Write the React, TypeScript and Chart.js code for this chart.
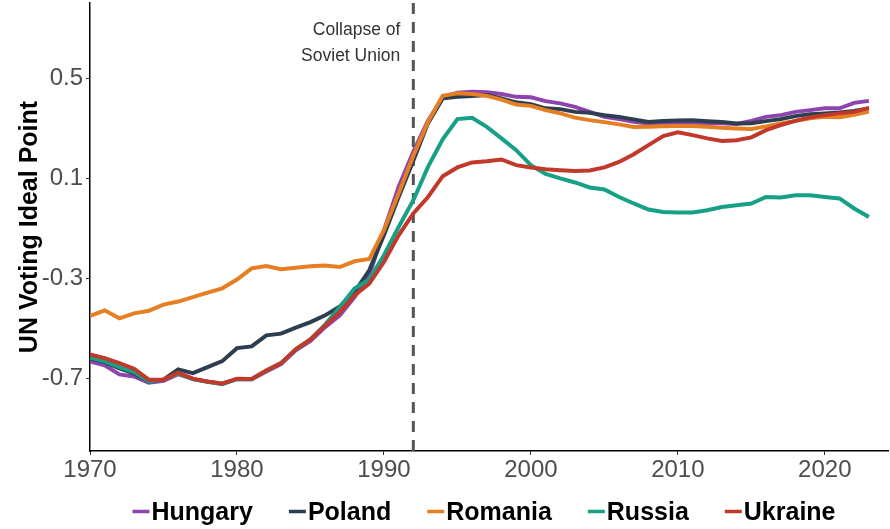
import React, { useEffect, useRef } from "react";
import { Chart, registerables } from "chart.js";

Chart.register(...registerables);

const years = [
  1970, 1971, 1972, 1973, 1974, 1975, 1976, 1977, 1978, 1979,
  1980, 1981, 1982, 1983, 1984, 1985, 1986, 1987, 1988, 1989,
  1990, 1991, 1992, 1993, 1994, 1995, 1996, 1997, 1998, 1999,
  2000, 2001, 2002, 2003, 2004, 2005, 2006, 2007, 2008, 2009,
  2010, 2011, 2012, 2013, 2014, 2015, 2016, 2017, 2018, 2019,
  2020, 2021, 2022, 2023,
];

const seriesNames = ["Hungary", "Poland", "Romania", "Russia", "Ukraine"];
const seriesColors = ["#8E44AD", "#2C3E50", "#E67E22", "#16A085", "#C0392B"];

const hungary = [
  -0.632, -0.648, -0.684, -0.692, -0.717, -0.71, -0.683, -0.703, -0.713, -0.72,
  -0.703, -0.703, -0.672, -0.643, -0.588, -0.55, -0.495, -0.448, -0.375, -0.288,
  -0.108, 0.065, 0.205, 0.33, 0.422, 0.441, 0.445, 0.443, 0.436, 0.425,
  0.423, 0.408, 0.399, 0.385, 0.365, 0.345, 0.336, 0.325, 0.319, 0.32,
  0.322, 0.322, 0.32, 0.32, 0.317, 0.329, 0.345, 0.352, 0.365, 0.372,
  0.379, 0.379, 0.401, 0.409,
];

const poland = [
  -0.62, -0.635, -0.66, -0.68, -0.712, -0.705, -0.664, -0.679, -0.655, -0.631,
  -0.579, -0.572, -0.528, -0.521, -0.497, -0.475, -0.448, -0.412, -0.355, -0.268,
  -0.128, 0.025, 0.17, 0.32, 0.419, 0.425, 0.428, 0.432, 0.419, 0.403,
  0.396, 0.379, 0.376, 0.365, 0.361, 0.352, 0.345, 0.335, 0.325, 0.329,
  0.331, 0.332, 0.328, 0.325, 0.319, 0.32, 0.328, 0.336, 0.348, 0.356,
  0.359, 0.363, 0.369, 0.379,
];

const romania = [
  -0.45, -0.428, -0.46, -0.44, -0.43, -0.405, -0.393, -0.375, -0.357, -0.34,
  -0.305, -0.26, -0.251, -0.264, -0.258, -0.252, -0.249, -0.255, -0.232, -0.223,
  -0.108, 0.039, 0.19, 0.325, 0.429, 0.439, 0.436, 0.429, 0.414, 0.394,
  0.389, 0.372, 0.359, 0.342, 0.332, 0.324, 0.315, 0.305, 0.306, 0.308,
  0.309, 0.309, 0.306, 0.302, 0.299, 0.297, 0.307, 0.319, 0.329, 0.339,
  0.345, 0.344, 0.353, 0.366,
];

const russia = [
  -0.617, -0.632, -0.655, -0.675, -0.712, -0.705, -0.68, -0.703, -0.713, -0.723,
  -0.703, -0.703, -0.668, -0.639, -0.584, -0.544, -0.485, -0.415, -0.341, -0.305,
  -0.208, -0.095, 0.012, 0.145, 0.255, 0.336, 0.341, 0.305, 0.259, 0.212,
  0.152, 0.117, 0.099, 0.083, 0.063, 0.055, 0.025, -0.001, -0.025, -0.035,
  -0.037, -0.037, -0.028, -0.015, -0.008, -0.001, 0.025, 0.023, 0.032, 0.032,
  0.025, 0.019, -0.021, -0.055,
];

const ukraine = [
  -0.604, -0.619, -0.639, -0.661, -0.705, -0.705, -0.677, -0.701, -0.712, -0.721,
  -0.701, -0.702, -0.668, -0.639, -0.584, -0.544, -0.488, -0.435, -0.368, -0.321,
  -0.235, -0.128, -0.041, 0.025, 0.108, 0.143, 0.163, 0.168, 0.175, 0.152,
  0.143, 0.136, 0.132, 0.129, 0.131, 0.143, 0.165, 0.196, 0.232, 0.268,
  0.283, 0.272, 0.259, 0.249, 0.252, 0.263, 0.292, 0.312, 0.329, 0.343,
  0.352, 0.359, 0.365, 0.381,
];

const seriesValues = [hungary, poland, romania, russia, ukraine];

const xTickValues = [1970, 1980, 1990, 2000, 2010, 2020];
const yTickValues = [-0.7, -0.3, 0.1, 0.5];

const eventYear = 1992;
const eventLabel = ["Collapse of", "Soviet Union"];
const yAxisTitle = "UN Voting Ideal Point";

const FONT = '"Liberation Sans", Arial, Helvetica, sans-serif';

const eventLinePlugin = {
  id: "eventLine",
  beforeDatasetsDraw(chart: any) {
    const { ctx, chartArea } = chart;
    const x = chart.scales.x.getPixelForValue(eventYear);
    ctx.save();
    ctx.strokeStyle = "#555555";
    ctx.lineWidth = 3;
    ctx.setLineDash([11, 8]);
    ctx.beginPath();
    ctx.moveTo(x, chartArea.bottom);
    ctx.lineTo(x, chartArea.top);
    ctx.stroke();
    ctx.setLineDash([]);
    ctx.fillStyle = "#333333";
    ctx.font = `17.5px ${FONT}`;
    ctx.textAlign = "right";
    ctx.textBaseline = "alphabetic";
    ctx.fillText(eventLabel[0], x - 13, 35);
    ctx.fillText(eventLabel[1], x - 13, 61);
    ctx.restore();
  },
};

const legendPlugin = {
  id: "bottomLegend",
  afterDraw(chart: any) {
    const { ctx, chartArea } = chart;
    const ds = chart.data.datasets;
    ctx.save();
    ctx.font = `bold 25px ${FONT}`;
    const markW = 17;
    const gapMT = 2;
    const gapItems = 36;
    const widths = ds.map((d: any) => markW + gapMT + ctx.measureText(d.label).width);
    const total = widths.reduce((a: number, b: number) => a + b, 0) + gapItems * (ds.length - 1);
    let x = (chartArea.left + chartArea.right) / 2 - total / 2 - 5;
    const yLine = 511.5;
    ds.forEach((d: any, i: number) => {
      ctx.strokeStyle = d.borderColor;
      ctx.lineWidth = 3.5;
      ctx.beginPath();
      ctx.moveTo(x, yLine);
      ctx.lineTo(x + markW, yLine);
      ctx.stroke();
      ctx.fillStyle = "#000000";
      ctx.textAlign = "left";
      ctx.textBaseline = "alphabetic";
      ctx.fillText(d.label, x + markW + gapMT, 519.5);
      x += widths[i] + gapItems;
    });
    ctx.restore();
  },
};

export default function App() {
  const canvasRef = useRef<HTMLCanvasElement | null>(null);

  useEffect(() => {
    const canvas = canvasRef.current;
    if (!canvas) return;
    const n = seriesNames.length;
    const datasets = seriesNames.map((name, i) => ({
      label: name,
      data: years.map((yr, j) => ({ x: yr, y: seriesValues[i][j] })),
      borderColor: seriesColors[i],
      backgroundColor: seriesColors[i],
      borderWidth: 4,
      pointRadius: 0,
      pointHoverRadius: 0,
      tension: 0,
      fill: false,
      order: n - 1 - i,
    }));

    const chart = new Chart(canvas, {
      type: "line",
      data: { datasets },
      plugins: [eventLinePlugin, legendPlugin],
      options: {
        animation: false,
        responsive: false,
        maintainAspectRatio: false,
        devicePixelRatio: 1,
        layout: { padding: { left: 0, right: 2, top: 3, bottom: 43 } },
        plugins: {
          legend: { display: false },
          tooltip: { enabled: false },
          title: { display: false },
        },
        scales: {
          x: {
            type: "linear",
            min: 1970,
            max: 2024.3,
            afterFit: (scale: any) => {
              scale.height = 35;
              scale.paddingLeft = 0;
              scale.paddingRight = 0;
            },
            afterBuildTicks: (scale: any) => {
              scale.ticks = xTickValues.map((v) => ({ value: v }));
            },
            grid: {
              display: true,
              drawOnChartArea: false,
              drawTicks: true,
              tickLength: 4,
              color: "#333333",
              lineWidth: 1,
            },
            border: { display: true, color: "#000000", width: 1.5 },
            ticks: {
              color: "#4d4d4d",
              font: { family: FONT, size: 24 },
              padding: 1,
              maxRotation: 0,
              autoSkip: false,
              callback: (v: any) => String(v),
            },
          },
          y: {
            type: "linear",
            min: -0.99,
            max: 0.8,
            afterFit: (scale: any) => {
              scale.width = 90;
              scale.paddingTop = 0;
              scale.paddingBottom = 0;
            },
            afterBuildTicks: (scale: any) => {
              scale.ticks = yTickValues.map((v) => ({ value: v }));
            },
            grid: {
              display: true,
              drawOnChartArea: false,
              drawTicks: true,
              tickLength: 4,
              color: "#333333",
              lineWidth: 1,
            },
            border: { display: true, color: "#000000", width: 1.5 },
            ticks: {
              color: "#4d4d4d",
              font: { family: FONT, size: 24 },
              padding: 3,
              autoSkip: false,
              callback: (v: any) => Number(v).toFixed(1),
            },
            title: {
              display: true,
              text: yAxisTitle,
              color: "#000000",
              font: { family: FONT, size: 25, weight: "bold" },
              padding: { top: 15, bottom: 0 },
            },
          },
        },
      },
    });

    return () => {
      chart.destroy();
    };
  }, []);

  return (
    <div style={{ position: "absolute", left: 0, top: 0, width: 890, height: 529, background: "#ffffff" }}>
      <canvas ref={canvasRef} width={890} height={529} style={{ display: "block", width: 890, height: 529 }} />
    </div>
  );
}
